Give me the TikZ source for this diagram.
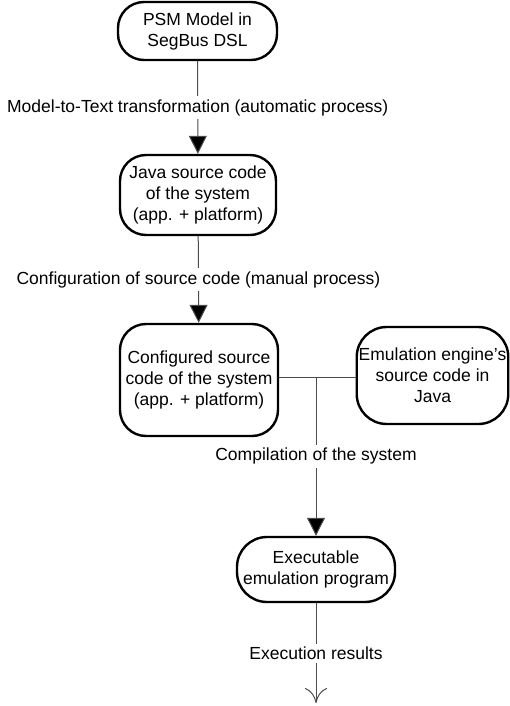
\documentclass[tikz,border=0pt]{standalone}
\usepackage{fontspec}
\setmainfont{Liberation Sans}
\usetikzlibrary{arrows.meta}
\usetikzlibrary{positioning}
\tikzset{stage/.style={draw, line width=2.4pt, rounded corners=26pt,
            align=center, inner sep=2pt, fill=white},
         flow/.style={draw=black!70, line width=1pt,
            -{Triangle[length=18pt,width=18pt,fill=black]}},
         result/.style={draw=black!70, line width=1pt,
            -{To[length=15pt,width=22pt]}},
         wire/.style={draw=black!70, line width=1pt},
         steplabel/.style={fill=white, inner sep=3pt}}

\begin{document}
\begin{tikzpicture}[x=1pt,y=-1pt,font=\fontsize{17.5}{21}\selectfont]
\useasboundingbox (0,0) rectangle (509,706);
% stages
\node [stage, minimum width=159pt, minimum height=58pt] (psm) at (197.5,31)
    {PSM Model in\\SegBus DSL};
\node [stage, minimum width=156pt, minimum height=80pt] (java) at (198,195)
    {Java source code\\of the system\\(app. + platform)};
\node [stage, minimum width=158pt, minimum height=112pt] (conf) at (199,380)
    {Configured source\\code of the system\\(app. + platform)};
\node [stage, minimum width=151pt, minimum height=97pt, rounded corners=30pt] (emu) at (432.5,375.5)
    {Emulation engine’s\\source code in\\Java};
\node [stage, minimum width=158pt, minimum height=65pt, rounded corners=30pt] (exe) at (316,569.5)
    {Executable\\emulation program};
%
\coordinate (jn) at (316,377);
\coordinate (out) at (316,703);
% transformations
\draw [flow] (psm) -- node[steplabel] {Model-to-Text transformation (automatic process)} (java);
\draw [flow] (java) -- node[steplabel] {Configuration of source code (manual process)} (conf);
\draw [wire] (conf.east |- jn) -- (emu.west |- jn);
\draw [flow] (jn) -- node[steplabel, pos=0.5] {Compilation of the system} (exe);
\draw [result] (exe) -- node[steplabel] {Execution results} (out);
\end{tikzpicture}
\end{document}
